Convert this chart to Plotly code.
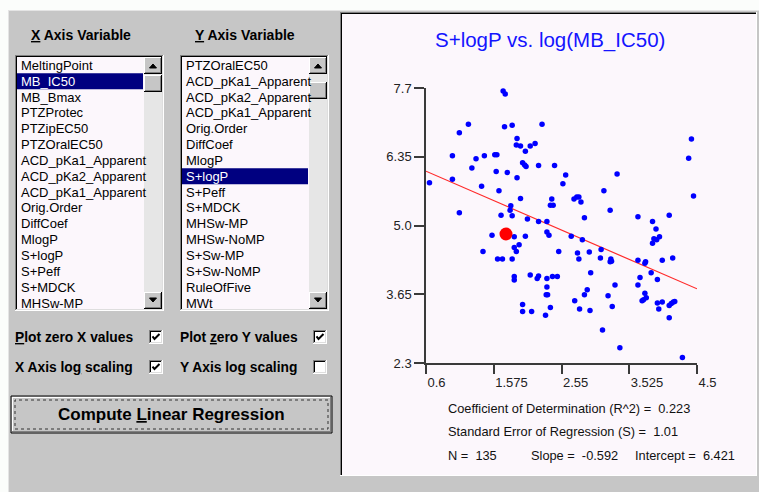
import plotly.graph_objects as go

W, H = 759, 492

# ---------------- data ----------------
x_vals = [1.71, 1.74, 1.21, 1.08, 1.73, 1.84, 2.27, 1.91, 1.90, 1.96, 2.03, 2.10, 2.17, 0.98, 1.32,
          1.44, 1.59, 1.62, 1.99, 2.02, 2.04, 2.22, 2.45, 1.26, 1.61, 1.77, 1.91, 0.65, 0.98, 1.40,
          1.65, 1.96, 2.41, 2.39, 2.43, 1.08, 1.82, 1.81, 1.68, 1.84, 2.06, 2.22, 2.34,
          4.42, 4.38, 2.61, 2.57, 3.35, 3.16, 4.45, 2.73, 2.77, 2.80, 2.83, 2.88, 3.25, 3.65, 3.86, 4.10,
          1.55, 1.87, 2.03, 1.94, 1.87, 1.90, 1.42, 1.63, 1.70, 1.84, 1.87, 1.87, 2.10, 2.22, 2.20,
          2.34, 2.42, 2.49, 2.34, 2.33, 2.35, 1.99, 2.39, 1.99, 2.12, 2.32, 2.34, 2.37, 2.51,
          3.91, 3.96, 3.88, 3.86, 3.92, 2.69, 2.85, 2.78, 2.80, 2.95, 3.12, 3.11, 3.26, 3.27, 3.25,
          3.65, 3.76, 3.75, 4.00, 4.15, 3.84, 3.93, 2.97, 3.68, 3.65, 3.32, 2.92, 2.88, 3.22, 3.75,
          3.77, 3.73, 3.71, 2.74, 2.81, 2.96, 3.28, 3.93, 4.00, 3.95, 4.10, 4.13, 4.16, 4.18, 4.10,
          3.14, 3.39, 4.29]
y_vals = [7.64, 7.58, 6.99, 6.82, 6.94, 6.97, 6.99, 6.71, 6.58, 6.56, 6.46, 6.56, 6.61, 6.37, 6.31,
          6.37, 6.39, 6.39, 6.23, 6.19, 6.16, 6.18, 6.18, 6.13, 6.06, 6.04, 5.94, 5.84, 5.91, 5.77,
          5.68, 5.53, 5.52, 5.40, 5.40, 5.25, 5.39, 5.30, 5.20, 5.19, 5.13, 5.08, 5.08,
          6.70, 6.32, 5.99, 5.82, 6.01, 5.68, 5.58, 5.52, 5.56, 5.56, 5.46, 5.15, 5.30, 5.17, 5.08, 5.20,
          4.81, 4.78, 4.79, 4.62, 4.57, 4.49, 4.49, 4.34, 4.34, 4.34, 4.00, 3.93, 4.03, 4.01, 3.96,
          3.96, 4.00, 4.00, 3.79, 3.64, 3.64, 3.45, 3.39, 3.31, 3.31, 3.24, 4.87, 4.81, 4.49,
          4.93, 4.78, 4.74, 4.65, 4.72, 4.79, 4.72, 4.46, 4.34, 4.48, 4.53, 4.36, 4.34, 4.30, 4.29,
          4.32, 4.29, 4.26, 4.32, 4.36, 4.07, 3.94, 4.07, 3.98, 3.83, 3.83, 3.74, 3.64, 3.62, 3.67,
          3.58, 3.54, 3.52, 3.52, 3.36, 3.33, 3.41, 3.48, 3.50, 3.36, 3.43, 3.47, 3.50, 3.51, 3.19,
          2.95, 2.60, 2.41]
sel_x = [1.751]
sel_y = [4.833]

slope = -0.592
intercept = 6.421
r_squared = 0.223
std_err = 1.01
n_obs = 135

x_range = [0.6, 4.5]
y_range = [2.3, 7.7]
x_ticks = [0.6, 1.575, 2.55, 3.525, 4.5]
x_tick_text = ["0.6", "1.575", "2.55", "3.525", "4.5"]
y_ticks = [2.3, 3.65, 5.0, 6.35, 7.7]
y_tick_text = ["2.3", "3.65", "5.0", "6.35", "7.7"]

chart_title = "S+logP vs. log(MB_IC50)"

x_list_items = ["MeltingPoint", "MB_IC50", "MB_Bmax", "PTZProtec", "PTZipEC50", "PTZOralEC50",
                "ACD_pKa1_Apparent", "ACD_pKa2_Apparent", "ACD_pKa1_Apparent", "Orig.Order",
                "DiffCoef", "MlogP", "S+logP", "S+Peff", "S+MDCK", "MHSw-MP"]
y_list_items = ["PTZOralEC50", "ACD_pKa1_Apparent", "ACD_pKa2_Apparent", "ACD_pKa1_Apparent",
                "Orig.Order", "DiffCoef", "MlogP", "S+logP", "S+Peff", "S+MDCK", "MHSw-MP",
                "MHSw-NoMP", "S+Sw-MP", "S+Sw-NoMP", "RuleOfFive", "MWt"]
x_sel_index = 1
y_sel_index = 7

# ---------------- helpers (pixel -> paper) ----------------
FONT = "Liberation Sans, Arial, sans-serif"
GRAY = "#c6c6c6"
PANEL = "#fcf7fc"
shapes = []
annots = []


def px(x):
    return x / W


def py(y):
    return 1 - y / H


def rect(x0, y0, x1, y1, fill, line_color=None, lw=1, dash=None):
    d = dict(type="rect", xref="paper", yref="paper",
             x0=px(x0), x1=px(x1), y0=py(y1), y1=py(y0),
             fillcolor=fill, layer="below",
             line=dict(width=lw if line_color else 0, color=line_color or "rgba(0,0,0,0)"))
    if dash:
        d["line"]["dash"] = dash
    shapes.append(d)


def hline(x0, x1, y, color, lw=1):
    shapes.append(dict(type="line", xref="paper", yref="paper", layer="below",
                       x0=px(x0), x1=px(x1), y0=py(y), y1=py(y), line=dict(color=color, width=lw)))


def vline(x, y0, y1, color, lw=1):
    shapes.append(dict(type="line", xref="paper", yref="paper", layer="below",
                       x0=px(x), x1=px(x), y0=py(y0), y1=py(y1), line=dict(color=color, width=lw)))


def path(points, color, fill=None, lw=1, close=False):
    s = "M " + " L ".join(f"{px(a):.5f},{py(b):.5f}" for a, b in points)
    if close:
        s += " Z"
    shapes.append(dict(type="path", xref="paper", yref="paper", path=s, layer="above",
                       fillcolor=fill or "rgba(0,0,0,0)", line=dict(color=color, width=lw)))


def text(x, y, s, size=12, color="#000", bold=False, anchor="left"):
    if bold:
        s = "<b>" + s + "</b>"
    annots.append(dict(xref="paper", yref="paper", x=px(x), y=py(y), text=s,
                       showarrow=False, xanchor=anchor, yanchor="middle",
                       font=dict(family=FONT, size=size, color=color)))


def sunken(x0, y0, x1, y1):
    hline(x0, x1, y0 + 0.5, "#808080")
    vline(x0 + 0.5, y0, y1, "#808080")
    hline(x0 + 1, x1 - 1, y0 + 1.5, "#000000")
    vline(x0 + 1.5, y0 + 1, y1 - 1, "#000000")
    hline(x0, x1, y1 - 0.5, "#ffffff")
    vline(x1 - 0.5, y0, y1, "#ffffff")
    hline(x0 + 1, x1 - 1, y1 - 1.5, "#dedede")
    vline(x1 - 1.5, y0 + 1, y1 - 1, "#dedede")


def raised(x0, y0, x1, y1):
    rect(x0, y0, x1, y1, GRAY)
    hline(x0, x1, y0 + 0.5, "#ffffff")
    vline(x0 + 0.5, y0, y1, "#ffffff")
    hline(x0, x1, y1 - 0.5, "#000000")
    vline(x1 - 0.5, y0, y1, "#000000")
    hline(x0 + 1, x1 - 1, y1 - 1.5, "#808080")
    vline(x1 - 1.5, y0 + 1, y1 - 1, "#808080")


# ---------------- window chrome ----------------
rect(8, 10, 759, 492, GRAY)
hline(8, 759, 10.5, "#e4e4e4")
vline(8.5, 10, 492, "#e4e4e4")

# headers
text(29, 35, "<u>X</u> Axis Variable", size=14, bold=True)
text(193, 35, "<u>Y</u> Axis Variable", size=14, bold=True)

ROW0, ROWH = 65.3, 15.85


def listbox(x0, x1, items, sel, thumb_y):
    y0, y1 = 55, 311
    rect(x0, y0, x1, y1, PANEL)
    sunken(x0, y0, x1, y1)
    sb0 = x1 - 20
    for i, name in enumerate(items):
        yc = ROW0 + i * ROWH
        if i == sel:
            rect(x0 + 2, yc - 8, sb0 - 1, yc + 8, "#000080")
            text(x0 + 4, yc, name, size=13, color="#ffffff")
        else:
            text(x0 + 4, yc, name, size=13, color="#000000")
    # scrollbar
    rect(sb0, y0 + 2, x1 - 2, y1 - 2, "#e6e6e6")
    raised(sb0, y0 + 2, x1 - 2, y0 + 19)
    raised(sb0, thumb_y, x1 - 2, thumb_y + 17)
    raised(sb0, y1 - 19, x1 - 2, y1 - 2)
    cx = (sb0 + x1 - 2) / 2
    path([(cx - 3.5, y0 + 13), (cx + 3.5, y0 + 13), (cx, y0 + 9)], "#000", fill="#000", close=True)
    path([(cx - 3.5, y1 - 13), (cx + 3.5, y1 - 13), (cx, y1 - 9)], "#000", fill="#000", close=True)


listbox(15, 164, x_list_items, x_sel_index, 75)
listbox(180, 329, y_list_items, y_sel_index, 82)


def checkbox(x, y, checked):
    rect(x, y, x + 14, y + 14, "#ffffff")
    sunken(x, y, x + 14, y + 14)
    if checked:
        path([(x + 3.5, y + 6.5), (x + 5.5, y + 9), (x + 10.5, y + 4)], "#000", lw=2)


CHK = 13.8
text(13, 337, "<u>P</u>lot zero X values", size=CHK, bold=True)
checkbox(149, 330, True)
text(178, 337, "Plot <u>z</u>ero Y values", size=CHK, bold=True)
checkbox(313, 330, True)
text(13, 367, "X Axis lo<u>g</u> scaling", size=CHK, bold=True)
checkbox(149, 360, True)
text(178, 367, "Y Axis lo<u>g</u> scaling", size=CHK, bold=True)
checkbox(313, 360, False)

# button
rect(11, 396, 332, 433, GRAY, "#000000", lw=1)
hline(12, 331, 397.5, "#ffffff")
vline(12.5, 397, 432, "#ffffff")
hline(12, 331, 431.5, "#808080")
vline(330.5, 397, 432, "#808080")
rect(15, 400, 328, 429, "rgba(0,0,0,0)", "#333333", lw=1, dash="dot")
text(171, 414, "Compute <u>L</u>inear Regression", size=17, bold=True, anchor="center")

# plot panel
rect(340, 12, 757, 476, PANEL)
hline(340, 757, 12.5, "#808080")
vline(340.5, 12, 476, "#808080")
hline(341, 756, 13.5, "#000000")
vline(341.5, 13, 475, "#000000")
hline(340, 757, 475.5, "#ffffff")
vline(756.5, 12, 476, "#ffffff")

text(550, 40, chart_title, size=20.5, color="#1414ff", anchor="center")

STAT = 12.8
text(446, 408, f"Coefficient of Determination (R^2) =  {r_squared:.3f}", size=STAT, color="#111")
text(446, 431, f"Standard Error of Regression (S) =  {std_err:.2f}", size=STAT, color="#111")
text(446, 455, f"N =  {n_obs}", size=STAT, color="#111")
text(529, 455, f"Slope =  {slope:.3f}", size=STAT, color="#111")
text(633, 455, f"Intercept =  {intercept:.3f}", size=STAT, color="#111")

# ---------------- traces ----------------
fig = go.Figure()
reg_y = [intercept + slope * v for v in x_range]
fig.add_trace(go.Scatter(x=x_range, y=reg_y, mode="lines",
                         line=dict(color="#ff2a2a", width=1.2), hoverinfo="skip"))
fig.add_trace(go.Scatter(x=x_vals, y=y_vals, mode="markers",
                         marker=dict(color="#0000ff", size=5.5, line=dict(width=0))))
fig.add_trace(go.Scatter(x=sel_x, y=sel_y, mode="markers",
                         marker=dict(color="#ff0000", size=13, line=dict(width=0))))

axis_common = dict(showgrid=False, zeroline=False, showline=True, linecolor="#3a3a3a", linewidth=1.5,
                   ticks="outside", tickcolor="#3a3a3a", tickwidth=1.5,
                   tickfont=dict(family=FONT, size=13, color="#222"), fixedrange=True)

fig.update_layout(
    autosize=True,
    margin=dict(l=0, r=0, t=0, b=0, autoexpand=False),
    paper_bgcolor="#fbfdfb",
    plot_bgcolor="rgba(0,0,0,0)",
    showlegend=False,
    shapes=shapes,
    annotations=annots,
    xaxis=dict(domain=[426 / W, 697 / W], range=x_range, tickvals=x_ticks, ticktext=x_tick_text,
               ticklen=9, ticklabelposition="outside right", ticklabelstandoff=7, **axis_common),
    yaxis=dict(domain=[1 - 363 / H, 1 - 88 / H], range=y_range, tickvals=y_ticks, ticktext=y_tick_text,
               ticklen=10, **axis_common),
)

fig.write_html("out.html", config={"displayModeBar": False, "responsive": True},
               default_width="100vw", default_height="100vh",
               post_script="document.documentElement.style.margin='0';document.body.style.margin='0';"
                           "document.body.style.overflow='hidden';")
